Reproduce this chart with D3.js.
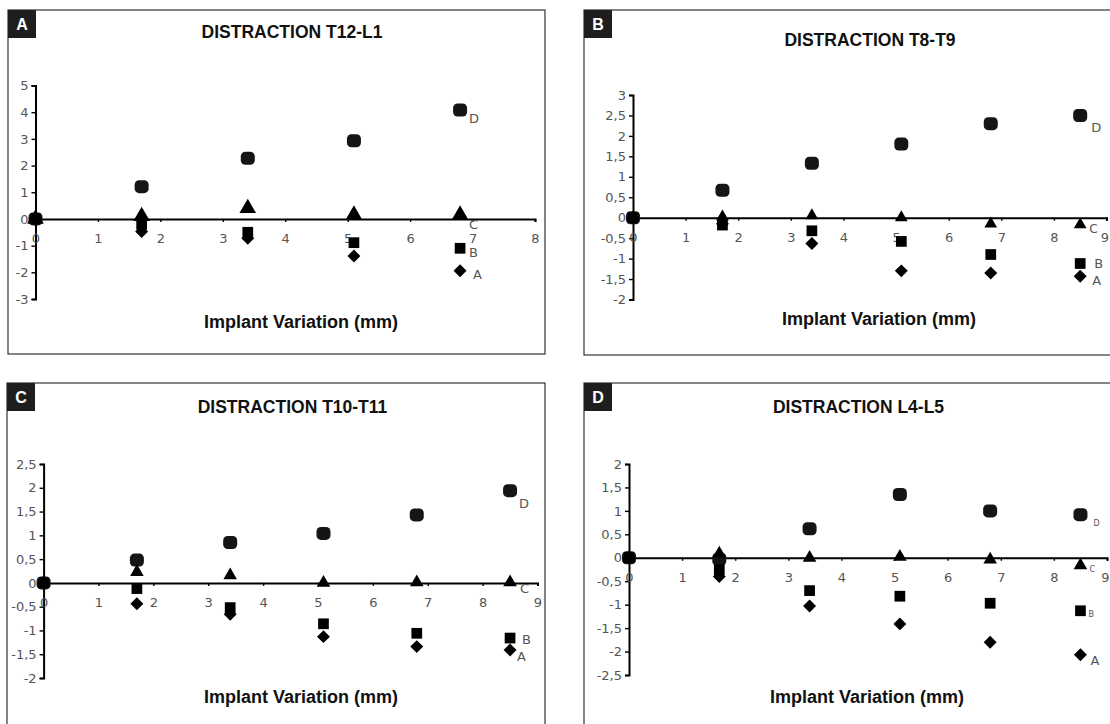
<!DOCTYPE html>
<html>
<head>
<meta charset="utf-8">
<script src="https://cdn.jsdelivr.net/npm/d3@7"></script>
<style>
  body { margin: 0; background: #fff; }
  .frame { fill: none; stroke: #333; stroke-width: 1.2; }
  .axis path, .axis line { stroke: #000; }
  .axis path { stroke-width: 2; }
  .axis line { stroke-width: 1.4; }
  .axis text { font-family: "DejaVu Sans", sans-serif; font-size: 13px; fill: #555; }
  .text--title { font-family: "Liberation Sans", Arial, sans-serif; font-weight: bold; font-size: 17.5px; fill: #111; text-anchor: middle; }
  .text--xlabel { font-family: "Liberation Sans", Arial, sans-serif; font-weight: bold; font-size: 18px; fill: #111; text-anchor: middle; }
  .text--letter { font-family: "Liberation Sans", Arial, sans-serif; font-weight: bold; font-size: 16px; fill: #fff; text-anchor: middle; }
  .text--series { font-family: "DejaVu Sans", sans-serif; fill: #555; }
</style>
</head>
<body>
<script>
// implant variation (mm), shared by all panels
const xValues = [0, 1.7, 3.4, 5.1, 6.8, 8.5];
const seriesNames = ["A", "B", "C", "D"];
const panelLetters = ["A", "B", "C", "D"];
const panelTitles = ["DISTRACTION T12-L1", "DISTRACTION T8-T9", "DISTRACTION T10-T11", "DISTRACTION L4-L5"];
const xAxisTitle = "Implant Variation (mm)";

// panel A - T12-L1 (only 5 measurements)
const t12A = [0, -0.47, -0.72, -1.39, -1.94];
const t12B = [0, -0.2, -0.5, -0.89, -1.1];
const t12C = [0, 0.1, 0.4, 0.15, 0.15];
const t12D = [0, 1.21, 2.27, 2.93, 4.08];

// panel B - T8-T9
const t8A = [0, -0.15, -0.63, -1.3, -1.35, -1.43];
const t8B = [0, -0.18, -0.32, -0.58, -0.9, -1.12];
const t8C = [0, 0.02, 0.05, 0, -0.15, -0.17];
const t8D = [0, 0.67, 1.33, 1.8, 2.3, 2.5];

// panel C - T10-T11
const t10A = [0, -0.44, -0.66, -1.13, -1.34, -1.41];
const t10B = [0, -0.12, -0.52, -0.86, -1.06, -1.16];
const t10C = [0, 0.23, 0.16, 0, 0.01, 0.01];
const t10D = [0, 0.48, 0.85, 1.04, 1.43, 1.94];

// panel D - L4-L5
const l4A = [0, -0.4, -1.03, -1.41, -1.8, -2.07];
const l4B = [0, -0.25, -0.7, -0.82, -0.97, -1.13];
const l4C = [0, 0.09, 0, 0.02, -0.04, -0.16];
const l4D = [0, -0.03, 0.62, 1.35, 1.0, 0.92];

// y axis extents and tick steps
const yDomains = [[-3, 5], [-2, 3], [-2, 2.5], [-2.5, 2]];
const yTickSteps = [1, 0.5, 0.5, 0.5];
const xMaxes = [8, 9, 9, 9];

const panelData = [
  [t12A, t12B, t12C, t12D],
  [t8A, t8B, t8C, t8D],
  [t10A, t10B, t10C, t10D],
  [l4A, l4B, l4C, l4D]
];

// layout of each panel on the page (pixels); lab = [dx, dy, font size] per series
const layout = [
  {frame: [8, 10, 537, 344], xr: [35.5, 535], yr: [299, 85.5], title: [292, 38], xt: [301, 328], tri: 120,
   lab: [[13, 8, 13], [9, 9, 13], [9, 14, 13], [9, 13, 13]]},
  {frame: [584, 10, 560, 345], xr: [633, 1106.5], yr: [299.5, 95], title: [870, 46], xt: [879, 325], tri: 70,
   lab: [[12, 9, 13], [14, 4, 13], [9, 8, 12], [11, 17, 13]]},
  {frame: [7, 383, 538, 400], xr: [43.6, 537.5], yr: [678, 464], title: [292.5, 413], xt: [301, 703], tri: 80,
   lab: [[7, 11, 13], [12, 6, 13], [10, 11, 13], [9, 17, 13]]},
  {frame: [584, 383, 560, 400], xr: [629, 1107], yr: [675, 464], title: [858.5, 413], xt: [867, 703], tri: 80,
   lab: [[10, 10, 13], [8, 6, 8], [9, 7, 8], [13, 11, 8]]}
];

const width = 1110;
const height = 724;

const svg = d3.select("body").append("svg")
    .attr("width", width)
    .attr("height", height);

const fmt = d => String(d).replace(".", ",");

panelData.forEach((series, p) => {
    const L = layout[p];
    const g = svg.append("g").attr("class", "panel panel--" + panelLetters[p]);

    // frame and letter box
    g.append("rect").attr("class", "frame")
        .attr("x", L.frame[0]).attr("y", L.frame[1])
        .attr("width", L.frame[2]).attr("height", L.frame[3]);
    g.append("rect")
        .attr("x", L.frame[0]).attr("y", L.frame[1])
        .attr("width", 28).attr("height", 28)
        .attr("fill", "#1e1e1e");
    g.append("text").attr("class", "text--letter")
        .attr("x", L.frame[0] + 14).attr("y", L.frame[1] + 20)
        .text(panelLetters[p]);

    // titles
    g.append("text").attr("class", "text--title")
        .attr("x", L.title[0]).attr("y", L.title[1])
        .text(panelTitles[p]);
    g.append("text").attr("class", "text--xlabel")
        .attr("x", L.xt[0]).attr("y", L.xt[1])
        .text(xAxisTitle);

    // scales
    const xScale = d3.scaleLinear().domain([0, xMaxes[p]]).range(L.xr);
    const yScale = d3.scaleLinear().domain(yDomains[p]).range(L.yr);
    const yTicks = d3.range(yDomains[p][0], yDomains[p][1] + 1e-9, yTickSteps[p]).map(v => +v.toFixed(2));

    // y axis
    g.append("g").attr("class", "axis axis--y")
        .attr("transform", `translate(${xScale(0)},0)`)
        .call(d3.axisLeft(yScale).tickValues(yTicks).tickFormat(fmt)
            .tickSizeOuter(0).tickSize(4).tickPadding(3));

    // x axis sits on y = 0
    const gx = g.append("g").attr("class", "axis axis--x")
        .attr("transform", `translate(0,${yScale(0)})`)
        .call(d3.axisBottom(xScale).tickValues(d3.range(0, xMaxes[p] + 1)).tickFormat(fmt)
            .tickSizeOuter(0).tickSize(3).tickPadding(12));

    // keep the last tick label inside the page on the right-hand panels
    if (L.xr[1] > width - 10) {
        gx.selectAll(".tick:last-of-type text").attr("dx", -2);
    }

    // markers: D (rounded square), A (diamond), B (square), C (triangle on top)
    const pts = (vals) => vals.map((v, i) => ({x: xValues[i], y: v}));

    g.append("g").selectAll("rect").data(pts(series[3])).enter().append("rect")
        .attr("x", d => xScale(d.x) - 7).attr("y", d => yScale(d.y) - 6.5)
        .attr("width", 14).attr("height", 13).attr("rx", 4.5)
        .attr("fill", "#151515");

    const diamond = d3.symbol().type(d3.symbolSquare).size(84);
    g.append("g").selectAll("path").data(pts(series[0])).enter().append("path")
        .attr("d", diamond)
        .attr("transform", d => `translate(${xScale(d.x)},${yScale(d.y)}) rotate(45)`)
        .attr("fill", "#000");

    const square = d3.symbol().type(d3.symbolSquare).size(115);
    g.append("g").selectAll("path").data(pts(series[1])).enter().append("path")
        .attr("d", square)
        .attr("transform", d => `translate(${xScale(d.x)},${yScale(d.y)})`)
        .attr("fill", "#000");

    const triangle = d3.symbol().type(d3.symbolTriangle).size(L.tri);
    g.append("g").selectAll("path").data(pts(series[2])).enter().append("path")
        .attr("d", triangle)
        .attr("transform", d => `translate(${xScale(d.x)},${yScale(d.y)})`)
        .attr("fill", "#000");

    // series letters next to the last point
    seriesNames.forEach((name, s) => {
        const vals = series[s];
        const last = vals.length - 1;
        g.append("text").attr("class", "text--series")
            .attr("x", xScale(xValues[last]) + L.lab[s][0])
            .attr("y", yScale(vals[last]) + L.lab[s][1])
            .attr("font-size", L.lab[s][2])
            .text(name);
    });
});
</script>
</body>
</html>
